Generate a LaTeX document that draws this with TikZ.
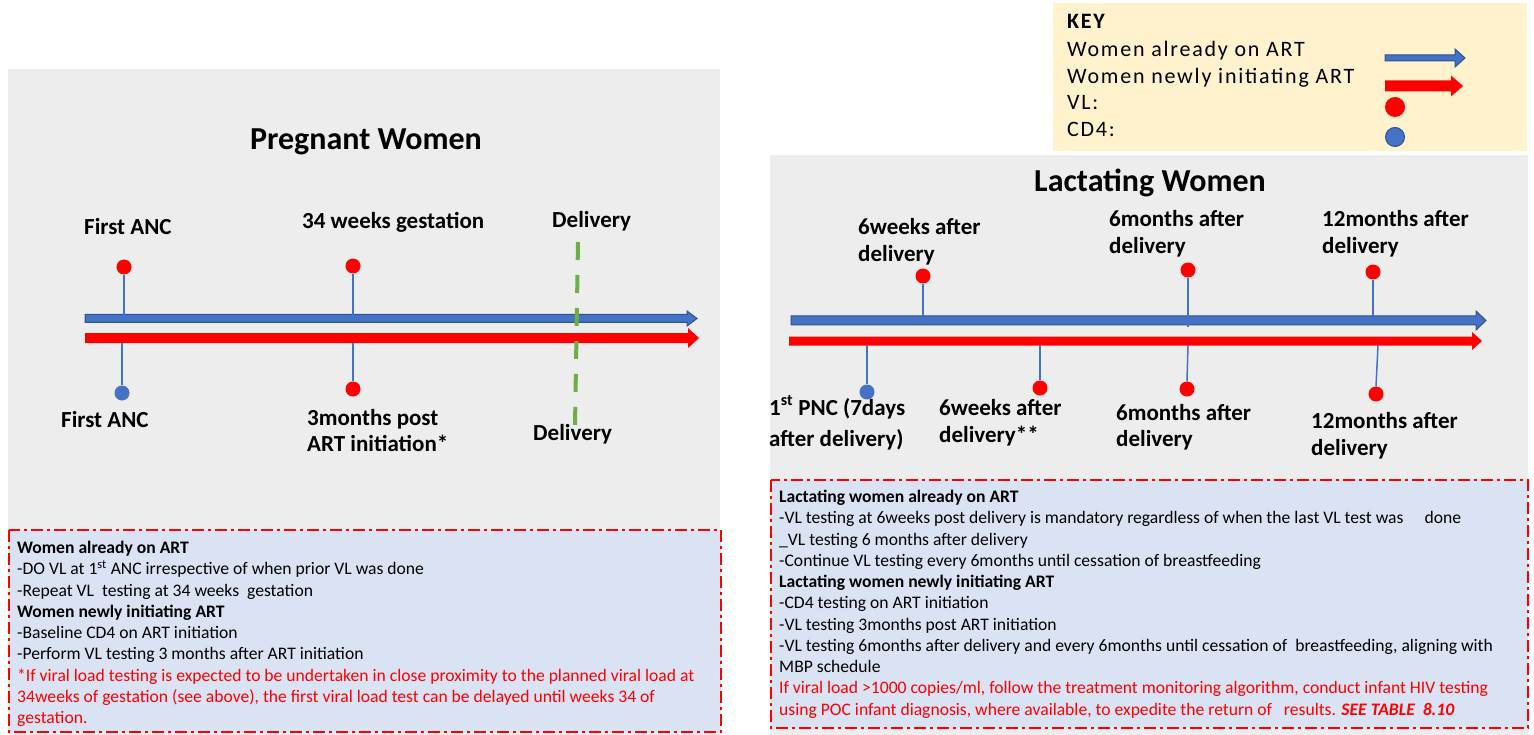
\documentclass[tikz,border=0pt]{standalone}
\usepackage{fontspec}
\setmainfont{Carlito}
\newfontfamily\keyfont[LetterSpace=8]{Carlito}
\usetikzlibrary{arrows.meta}
\definecolor{panelgray}{HTML}{EDEDED}
\definecolor{boxblue}{HTML}{DAE3F3}
\definecolor{keyyellow}{HTML}{FFF2CC}
\definecolor{artblue}{HTML}{4472C4}
\definecolor{artblueedge}{HTML}{2F528F}
\definecolor{artred}{HTML}{FF0000}
\definecolor{delgreen}{HTML}{70AD47}
% #1 style, #2 x start, #3 x tip, #4 y, #5 half body, #6 half head, #7 head length
\newcommand{\tlarrow}[7]{%
  \path[#1] (#2,#4-#5) -- (#3-#7,#4-#5) -- (#3-#7,#4-#6) -- (#3,#4)
    -- (#3-#7,#4+#6) -- (#3-#7,#4+#5) -- (#2,#4+#5) -- cycle;}
\begin{document}
\begin{tikzpicture}[x=1pt,y=-1pt,
  vldot/.style={circle, fill=artred, minimum size=15pt, inner sep=0pt},
  cd4dot/.style={circle, fill=artblue, minimum size=15pt, inner sep=0pt},
  pinline/.style={draw=artblue, line width=1.5pt},
  bluearrow/.style={fill=artblue, draw=artblueedge, line width=1pt},
  redarrow/.style={fill=artred},
  lbl/.style={anchor=base west, inner sep=0pt, font=\fontsize{23}{27}\selectfont\bfseries},
  ttl/.style={inner sep=0pt, font=\fontsize{32}{38}\selectfont\bfseries},
  txt/.style={anchor=base west, inner sep=0pt, font=\fontsize{17.6}{21}\selectfont},
  keytxt/.style={anchor=base west, inner sep=0pt, font=\fontsize{22}{27}\keyfont},
  notebox/.style={fill=boxblue, draw=artred, line width=2pt,
    dash pattern=on 12pt off 4pt on 3pt off 4pt},
  deliv/.style={draw=delgreen, line width=4pt, dash pattern=on 18pt off 15pt}
]
\useasboundingbox (0,0) rectangle (1534,735);
\fill[white] (0,0) rectangle (1534,735);
% panels
\fill[panelgray] (8,69) rectangle (720,735);
\fill[panelgray] (770,155) rectangle (1528,735);
\fill[keyyellow] (1053,3) rectangle (1527,151);
\path[notebox] (9,530) rectangle (721,732);
\path[notebox] (771,480) rectangle (1528,728);

% titles
\node[ttl] (tPreg) at (366,142) {Pregnant Women};
\node[ttl] (tLact) at (1150,183) {Lactating Women};

% ---------- left timeline ----------
\tlarrow{bluearrow}{85}{697}{318.5}{4}{7.5}{10}
\tlarrow{redarrow}{85}{699}{338}{5}{10}{11}
\coordinate (dTop) at (578,242);
\coordinate (dBot) at (575,426);
\draw[deliv] (dTop) -- (dBot);

\node[vldot] (pV1) at (124,267) {};
\node[vldot] (pV2) at (353,266) {};
\node[cd4dot] (pC1) at (122,393) {};
\node[vldot] (pV3) at (353,389) {};
\coordinate (pB1) at (124,315);
\coordinate (pB2) at (353,315);
\coordinate (pR1) at (122,343);
\coordinate (pR2) at (353,343);
\draw[pinline] (pV1.south) -- (pB1);
\draw[pinline] (pV2.south) -- (pB2);
\draw[pinline] (pR1) -- (pC1.north);
\draw[pinline] (pR2) -- (pV3.north);

\node[lbl] (lA1) at (84,235) {First ANC};
\node[lbl] (lA2) at (302,229) {34 weeks gestation};
\node[lbl] (lA3) at (552,228) {Delivery};
\node[lbl] (lB1) at (61,427) {First ANC};
\node[lbl] (lB2a) at (307,425) {3months post};
\node[lbl] (lB2b) at (307,451) {ART initiation*};
\node[lbl] (lB3) at (533,440) {Delivery};

% ---------- right timeline ----------
\tlarrow{bluearrow}{791}{1486}{320.5}{4.5}{9.5}{10}
\tlarrow{redarrow}{789}{1482}{341}{4.5}{9}{10}

\node[vldot] (rV1) at (923,276) {};
\node[vldot] (rV2) at (1188,270) {};
\node[vldot] (rV3) at (1373,272) {};
\node[cd4dot] (rC1) at (867,392) {};
\node[vldot] (rV4) at (1040,388) {};
\node[vldot] (rV5) at (1187,389) {};
\node[vldot] (rV6) at (1376,394) {};
\coordinate (rB1) at (923,316);
\coordinate (rB2) at (1188,327);
\coordinate (rB3) at (1373,316);
\coordinate (rR1) at (867,345);
\coordinate (rR2) at (1040,345);
\coordinate (rR3) at (1188,345);
\coordinate (rR4) at (1378,345);
\draw[pinline] (rV1.south) -- (rB1);
\draw[pinline] (rV2.south) -- (rB2);
\draw[pinline] (rV3.south) -- (rB3);
\draw[pinline] (rR1) -- (rC1.north);
\draw[pinline] (rR2) -- (rV4.north);
\draw[pinline] (rR3) -- (rV5.north);
\draw[pinline] (rR4) -- (rV6.north);

\node[lbl] (mA1a) at (858,235) {6weeks after};
\node[lbl] (mA1b) at (858,262) {delivery};
\node[lbl] (mA2a) at (1109,227) {6months after};
\node[lbl] (mA2b) at (1109,254) {delivery};
\node[lbl] (mA3a) at (1322,227) {12months after};
\node[lbl] (mA3b) at (1322,254) {delivery};
\node[lbl] (mB1a) at (769,415) {1\textsuperscript{st} PNC (7days};
\node[lbl] (mB1b) at (769,446) {after delivery)};
\node[lbl] (mB2a) at (939,415) {6weeks after};
\node[lbl] (mB2b) at (939,442) {delivery**};
\node[lbl] (mB3a) at (1116,420) {6months after};
\node[lbl] (mB3b) at (1116,446) {delivery};
\node[lbl] (mB4a) at (1311,428) {12months after};
\node[lbl] (mB4b) at (1311,455) {delivery};

% ---------- key ----------
\node[keytxt] (kT0) at (1067,29) {\bfseries KEY};
\node[keytxt] (kT1) at (1067,57) {Women already on ART};
\node[keytxt] (kT2) at (1067,84) {Women newly initiating ART};
\node[keytxt] (kT3) at (1067,110) {VL:};
\node[keytxt] (kT4) at (1067,137) {CD4:};
\tlarrow{bluearrow}{1385}{1465}{58}{3}{9}{10}
\tlarrow{redarrow}{1385}{1463}{86}{5.5}{10.5}{12}
\node[circle, fill=artred, minimum size=20pt, inner sep=0pt] (kVL) at (1395,107) {};
\node[circle, fill=artblue, draw=artblueedge, line width=1pt, minimum size=19pt, inner sep=0pt] (kCD) at (1395,137) {};

% ---------- left notes ----------
\node[txt] (n1) at (17,553.5) {\bfseries Women already on ART};
\node[txt] (n2) at (17,574.8) {-DO VL at 1\textsuperscript{st} ANC irrespective of when prior VL was done};
\node[txt] (n3) at (17,596) {-Repeat VL\ \ testing at 34 weeks\ \ gestation};
\node[txt] (n4) at (17,617.3) {\bfseries Women newly initiating ART};
\node[txt] (n5) at (17,638.5) {-Baseline CD4 on ART initiation};
\node[txt] (n6) at (17,659.8) {-Perform VL testing 3 months after ART initiation};
\node[txt, text=artred] (n7) at (17,681) {*If viral load testing is expected to be undertaken in close proximity to the planned viral load at};
\node[txt, text=artred] (n8) at (17,702.3) {34weeks of gestation (see above), the first viral load test can be delayed until weeks 34 of};
\node[txt, text=artred] (n9) at (17,723.5) {gestation.};

% ---------- right notes ----------
\node[txt] (m1) at (779,502.5) {\bfseries Lactating women already on ART};
\node[txt] (m2) at (779,523.8) {-VL testing at 6weeks post delivery is mandatory regardless of when the last VL test was\hspace{1.2em}done};
\node[txt] (m3) at (779,545) {\_VL testing 6 months after delivery};
\node[txt] (m4) at (779,566.3) {-Continue VL testing every 6months until cessation of breastfeeding};
\node[txt] (m5) at (779,587.5) {\bfseries Lactating women newly initiating ART};
\node[txt] (m6) at (779,608.8) {-CD4 testing on ART initiation};
\node[txt] (m7) at (779,630) {-VL testing 3months post ART initiation};
\node[txt] (m8) at (779,651.3) {-VL testing 6months after delivery and every 6months until cessation of\ \ breastfeeding, aligning with};
\node[txt] (m9) at (779,672.5) {MBP schedule};
\node[txt, text=artred] (m10) at (779,693.8) {If viral load >1000 copies/ml, follow the treatment monitoring algorithm, conduct infant HIV testing};
\node[txt, text=artred] (m11) at (779,715) {using POC infant diagnosis, where available, to expedite the return of\ \ \ results. \textbf{\textit{SEE TABLE\ \ 8.10}}};
\end{tikzpicture}
\end{document}
